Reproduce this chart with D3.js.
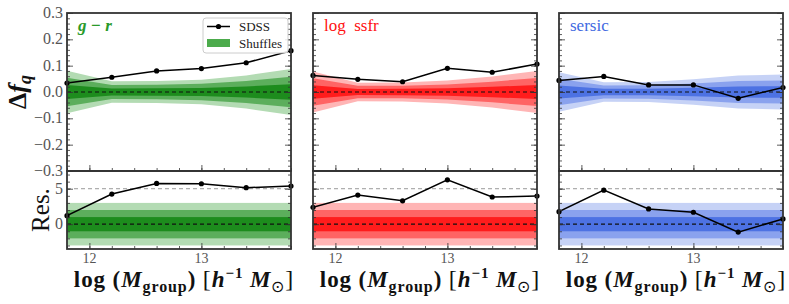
<!DOCTYPE html>
<html lang="en">
<head>
<meta charset="UTF-8">
<title>Delta f_q vs group mass</title>
<script src="https://d3js.org/d3.v7.min.js"></script>
<style>
    body { margin: 0; background: #fff; }
</style>
</head>
<body>
<svg id="chart" width="789" height="304"></svg>
<script>
    // mass bins (log M_group)
    const massBins = [11.8, 12.2, 12.6, 13.0, 13.4, 13.8];

    // SDSS Delta f_q per property
    const dfGR    = [0.034, 0.056, 0.080, 0.089, 0.111, 0.157];
    const dfSSFR  = [0.063, 0.048, 0.039, 0.090, 0.075, 0.106];
    const dfSersic = [0.044, 0.059, 0.027, 0.027, -0.024, 0.017];

    // residuals (Delta f_q / sigma of shuffles)
    const resGR    = [1.2, 4.25, 5.75, 5.7, 5.15, 5.37];
    const resSSFR  = [2.38, 4.1, 3.3, 6.26, 3.83, 3.97];
    const resSersic = [1.77, 4.8, 2.15, 1.68, -1.12, 0.74];

    // scatter of shuffled catalogues (1 sigma)
    const sigGR    = [0.027, 0.0135, 0.014, 0.0155, 0.021, 0.029];
    const sigSSFR  = [0.026, 0.0118, 0.012, 0.0144, 0.0196, 0.0267];
    const sigSersic = [0.025, 0.0123, 0.0126, 0.016, 0.021, 0.022];

    const topTicks = [-0.3, -0.2, -0.1, 0.0, 0.1, 0.2, 0.3];
    const resTicks = [0, 5];
    const xTicks = [12, 13];

    const panels = [
        { label: "g − r", italic: true, df: dfGR, res: resGR, sig: sigGR,
          shades: ["#b3dbb3", "#5cae5c", "#1d8c1d"], text: "#2a9a2a" },
        { label: "log\u00A0\u00A0ssfr", italic: false, df: dfSSFR, res: resSSFR, sig: sigSSFR,
          shades: ["#ffb5b5", "#ff6464", "#ff1c1c"], text: "#ff1010" },
        { label: "sersic", italic: false, df: dfSersic, res: resSersic, sig: sigSersic,
          shades: ["#c6d2f6", "#8aa2ee", "#4d72e3"], text: "#4169e1" }
    ];

    const serif = "'Liberation Serif'";
    const svg = d3.select("#chart").style("font-family", serif);
    const panelLeft = [67, 313, 559];
    const pw = 224;
    const topY0 = 13, topY1 = 171, botY1 = 249;

    const yTop = d3.scaleLinear().domain([-0.3, 0.3]).range([topY1, topY0]);
    const yRes = d3.scaleLinear().domain([-3.5, 7.5]).range([botY1, topY1]);

    panels.forEach((p, i) => {
        const x = d3.scaleLinear().domain([11.8, 13.8]).range([panelLeft[i], panelLeft[i] + pw]);
        const rows = massBins.map((m, j) => ({ m, df: p.df[j], res: p.res[j], s: p.sig[j] }));

        const clipId = "clip" + i;
        svg.append("clipPath").attr("id", clipId)
            .append("rect").attr("x", panelLeft[i]).attr("y", topY0)
            .attr("width", pw).attr("height", botY1 - topY0);
        const g = svg.append("g").attr("clip-path", `url(#${clipId})`);

        // shuffle bands (3, 2, 1 sigma)
        [3, 2, 1].forEach((k, n) => {
            const area = d3.area()
                .x(d => x(d.m))
                .y0(d => yTop(-k * d.s))
                .y1(d => yTop(k * d.s));
            g.append("path").datum(rows).attr("d", area).attr("fill", p.shades[n]);

            g.append("rect")
                .attr("x", x(11.8)).attr("width", x(13.8) - x(11.8))
                .attr("y", yRes(k)).attr("height", yRes(-k) - yRes(k))
                .attr("fill", p.shades[n]);
        });

        // reference lines
        g.append("line").attr("x1", x(11.8)).attr("x2", x(13.8))
            .attr("y1", yTop(0)).attr("y2", yTop(0))
            .attr("stroke", "#111").attr("stroke-width", 1.2).attr("stroke-dasharray", "4,3");
        g.append("line").attr("x1", x(11.8)).attr("x2", x(13.8))
            .attr("y1", yRes(0)).attr("y2", yRes(0))
            .attr("stroke", "#111").attr("stroke-width", 1.2).attr("stroke-dasharray", "4,3");
        g.append("line").attr("x1", x(11.8)).attr("x2", x(13.8))
            .attr("y1", yRes(5)).attr("y2", yRes(5))
            .attr("stroke", "#999").attr("stroke-width", 1).attr("stroke-dasharray", "4,3");

        // SDSS line + points
        const lineTop = d3.line().x(d => x(d.m)).y(d => yTop(d.df));
        const lineRes = d3.line().x(d => x(d.m)).y(d => yRes(d.res));
        g.append("path").datum(rows).attr("d", lineTop)
            .attr("fill", "none").attr("stroke", "#000").attr("stroke-width", 1.5);
        g.append("path").datum(rows).attr("d", lineRes)
            .attr("fill", "none").attr("stroke", "#000").attr("stroke-width", 1.5);
        svg.selectAll(null).data(rows).enter().append("circle")
            .attr("cx", d => x(d.m)).attr("cy", d => yTop(d.df)).attr("r", 2.6).attr("fill", "#000");
        svg.selectAll(null).data(rows).enter().append("circle")
            .attr("cx", d => x(d.m)).attr("cy", d => yRes(d.res)).attr("r", 2.6).attr("fill", "#000");

        // axes with inward ticks
        const xMinor = d3.range(11.8, 13.81, 0.2).map(v => +v.toFixed(1));
        const addX = (yPos) => {
            svg.append("g").attr("transform", `translate(0,${yPos})`)
                .call(d3.axisBottom(x).tickValues(xMinor).tickSize(-3).tickFormat(""))
                .call(a => a.select(".domain").remove());
            svg.append("g").attr("transform", `translate(0,${yPos})`)
                .call(d3.axisBottom(x).tickValues(xTicks).tickSize(-6).tickFormat(""))
                .call(a => a.select(".domain").remove());
        };
        addX(topY1);
        addX(botY1);

        const addY = (scale, major, minor, xPos, dir) => {
            const ax = dir === "left" ? d3.axisLeft : d3.axisRight;
            svg.append("g").attr("transform", `translate(${xPos},0)`)
                .call(ax(scale).tickValues(minor).tickSize(-3).tickFormat(""))
                .call(a => a.select(".domain").remove());
            svg.append("g").attr("transform", `translate(${xPos},0)`)
                .call(ax(scale).tickValues(major).tickSize(-6).tickFormat(""))
                .call(a => a.select(".domain").remove());
        };
        const topMinor = d3.range(-0.3, 0.301, 0.02).map(v => +v.toFixed(2));
        const resMinor = d3.range(-3, 8, 1);
        addY(yTop, topTicks, topMinor, panelLeft[i], "left");
        addY(yTop, topTicks, topMinor, panelLeft[i] + pw, "right");
        addY(yRes, resTicks, resMinor, panelLeft[i], "left");
        addY(yRes, resTicks, resMinor, panelLeft[i] + pw, "right");
        svg.selectAll(".tick line").attr("stroke", "#333").attr("stroke-width", 0.8);

        // frames
        [[topY0, topY1], [topY1, botY1]].forEach(([a, b]) => {
            svg.append("rect").attr("x", panelLeft[i]).attr("y", a)
                .attr("width", pw).attr("height", b - a)
                .attr("fill", "none").attr("stroke", "#333").attr("stroke-width", 1.8);
        });

        // x tick labels
        svg.selectAll(null).data(xTicks).enter().append("text")
            .style("font-family", serif).attr("fill", "#555").attr("font-size", 14)
            .attr("x", d => x(d)).attr("y", 263)
            .attr("text-anchor", "middle").text(d => d);

        // panel label
        const lab = svg.append("text").style("font-family", serif)
            .attr("x", panelLeft[i] + 11).attr("y", 31)
            .attr("fill", p.text).attr("font-size", 17).text(p.label);
        if (p.italic) lab.attr("font-style", "italic").attr("font-weight", "bold");

        // x axis title
        const xt = svg.append("text").style("font-family", serif)
            .attr("x", panelLeft[i] + pw / 2 + 5).attr("y", 287)
            .attr("text-anchor", "middle").attr("font-size", 23).attr("font-weight", "bold")
            .attr("letter-spacing", 0.9).attr("fill", "#111");
        xt.append("tspan").text("log (");
        xt.append("tspan").attr("font-style", "italic").text("M");
        xt.append("tspan").attr("font-size", 16).attr("dy", 5).text("group");
        xt.append("tspan").attr("dy", -5).text(")\u00A0");
        xt.append("tspan").attr("font-weight", "normal").attr("font-size", 24).text("[");
        xt.append("tspan").attr("font-style", "italic").text("h");
        xt.append("tspan").attr("font-size", 15).attr("dy", -9).text("−1");
        xt.append("tspan").attr("dy", 9).attr("font-style", "italic").text("\u00A0M");
        xt.append("tspan").attr("font-size", 16).attr("font-weight", "normal").attr("dy", 5).text("⊙");
        xt.append("tspan").attr("font-weight", "normal").attr("font-size", 24).attr("dy", -5).text("]");
    });

    // y tick labels (first panel only)
    svg.selectAll(null).data(topTicks).enter().append("text")
        .style("font-family", serif).attr("fill", "#555").attr("font-size", 16)
        .attr("x", 63).attr("y", d => yTop(d) + 5)
        .attr("text-anchor", "end")
        .text(d => d3.format(".1f")(d).replace("-", "−"));
    svg.selectAll(null).data(resTicks).enter().append("text")
        .style("font-family", serif).attr("fill", "#555").attr("font-size", 16)
        .attr("x", 63).attr("y", d => yRes(d) + 5)
        .attr("text-anchor", "end").text(d => d);

    // y titles
    const yt = svg.append("text").style("font-family", serif)
        .attr("transform", `translate(26,${yTop(0)}) rotate(-90)`)
        .attr("text-anchor", "middle").attr("font-size", 26).attr("font-weight", "bold")
        .attr("fill", "#111");
    yt.append("tspan").text("Δ");
    yt.append("tspan").attr("font-style", "italic").text("f");
    yt.append("tspan").attr("font-style", "italic").attr("font-size", 18).attr("dy", 5).text("q");

    svg.append("text").style("font-family", serif)
        .attr("transform", `translate(49,${yRes(2)}) rotate(-90)`)
        .attr("text-anchor", "middle").attr("font-size", 25)
        .attr("fill", "#111").text("Res.");

    // legend
    const lg = svg.append("g").attr("transform", "translate(203,18)");
    lg.append("rect").attr("width", 85).attr("height", 35).attr("rx", 3)
        .attr("fill", "#fff").attr("fill-opacity", 0.85)
        .attr("stroke", "#ccc").attr("stroke-width", 1);
    lg.append("line").attr("x1", 4).attr("x2", 27).attr("y1", 8.5).attr("y2", 8.5)
        .attr("stroke", "#000").attr("stroke-width", 1.5);
    lg.append("circle").attr("cx", 15.5).attr("cy", 8.5).attr("r", 2.6).attr("fill", "#000");
    lg.append("rect").attr("x", 4).attr("y", 21).attr("width", 23).attr("height", 8)
        .attr("fill", "#4cab4c");
    lg.append("text").style("font-family", serif).attr("x", 36).attr("y", 13)
        .attr("font-size", 13).attr("fill", "#222").text("SDSS");
    lg.append("text").style("font-family", serif).attr("x", 36).attr("y", 30)
        .attr("font-size", 13).attr("fill", "#222").text("Shuffles");
</script>
</body>
</html>
